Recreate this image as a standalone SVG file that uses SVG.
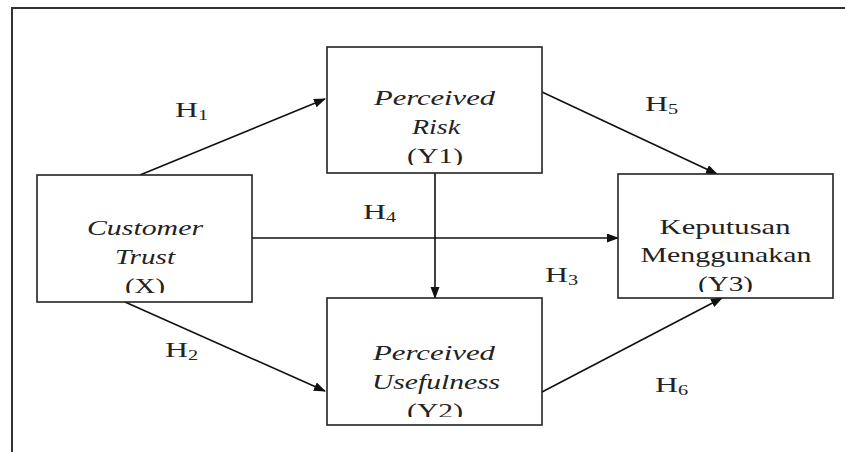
<svg xmlns="http://www.w3.org/2000/svg" width="845" height="452" viewBox="0 0 845 452">
<style>
.box{fill:#fff;stroke:#222;stroke-width:1.6}
.frame{fill:none;stroke:#333;stroke-width:2}
.con{stroke:#111;stroke-width:1.6;fill:none}
.t{font-family:"Liberation Serif","Times New Roman",serif;font-size:22px;fill:#222;text-anchor:middle}
.i{font-style:italic}
.h{font-family:"Liberation Serif","Times New Roman",serif;font-size:22px;fill:#222}
.sub{font-size:14px}
</style>
<defs>
<marker id="ah" markerUnits="userSpaceOnUse" markerWidth="12" markerHeight="10" refX="11" refY="4.5" orient="auto">
<path d="M0,0 L12,4.5 L0,9 z" fill="#111"/>
</marker>
<clipPath id="cX"><rect x="37" y="175" width="215" height="118"/></clipPath>
<clipPath id="cY1"><rect x="327" y="47" width="215" height="118"/></clipPath>
<clipPath id="cY2"><rect x="327" y="298" width="215" height="119"/></clipPath>
<clipPath id="cY3"><rect x="618" y="174" width="215" height="118"/></clipPath>
</defs>
<rect width="845" height="452" fill="#fff"/>
<path class="frame" d="M846,8 H12 V453"/>
<g id="connectors">
<line class="con" x1="140" y1="175" x2="325" y2="99" marker-end="url(#ah)"/>
<line class="con" x1="125" y1="302" x2="325" y2="391" marker-end="url(#ah)"/>
<line class="con" x1="252" y1="238" x2="618" y2="238" marker-end="url(#ah)"/>
<line class="con" x1="435" y1="173" x2="435" y2="298" marker-end="url(#ah)"/>
<line class="con" x1="542" y1="92" x2="717" y2="174" marker-end="url(#ah)"/>
<line class="con" x1="542" y1="392" x2="722" y2="298" marker-end="url(#ah)"/>
</g>
<g id="node-x">
<rect class="box" x="37" y="175" width="215" height="127"/>
<g clip-path="url(#cX)">
<text class="t i" transform="translate(145,235) scale(1.38,1)" textLength="84.1" lengthAdjust="spacingAndGlyphs">Customer</text>
<text class="t i" transform="translate(145,264) scale(1.38,1)" textLength="43.5" lengthAdjust="spacingAndGlyphs">Trust</text>
<text class="t" transform="translate(145,293) scale(1.38,1)" textLength="29" lengthAdjust="spacingAndGlyphs">(X)</text>
</g>
</g>
<g id="node-y1">
<rect class="box" x="327" y="47" width="215" height="126"/>
<g clip-path="url(#cY1)">
<text class="t i" transform="translate(434.5,105) scale(1.38,1)" textLength="87.7" lengthAdjust="spacingAndGlyphs">Perceived</text>
<text class="t i" transform="translate(436,134) scale(1.38,1)" textLength="34.8" lengthAdjust="spacingAndGlyphs">Risk</text>
<text class="t" transform="translate(435,163) scale(1.38,1)" textLength="40.6" lengthAdjust="spacingAndGlyphs">(Y1)</text>
</g>
</g>
<g id="node-y2">
<rect class="box" x="327" y="298" width="215" height="127"/>
<g clip-path="url(#cY2)">
<text class="t i" transform="translate(434,360) scale(1.38,1)" textLength="88.4" lengthAdjust="spacingAndGlyphs">Perceived</text>
<text class="t i" transform="translate(436,389) scale(1.38,1)" textLength="92.8" lengthAdjust="spacingAndGlyphs">Usefulness</text>
<text class="t" transform="translate(435,418) scale(1.38,1)" textLength="40.6" lengthAdjust="spacingAndGlyphs">(Y2)</text>
</g>
</g>
<g id="node-y3">
<rect class="box" x="618" y="174" width="215" height="124"/>
<g clip-path="url(#cY3)">
<text class="t" transform="translate(725,234) scale(1.38,1)" textLength="94.9" lengthAdjust="spacingAndGlyphs">Keputusan</text>
<text class="t" transform="translate(726,262) scale(1.38,1)" textLength="123.9" lengthAdjust="spacingAndGlyphs">Menggunakan</text>
<text class="t" transform="translate(725.5,291) scale(1.38,1)" textLength="39.9" lengthAdjust="spacingAndGlyphs">(Y3)</text>
</g>
</g>
<g id="labels">
<text class="h" transform="translate(175,117) scale(1.45,1)">H<tspan class="sub" dy="3">1</tspan></text>
<text class="h" transform="translate(165,357) scale(1.45,1)">H<tspan class="sub" dy="3">2</tspan></text>
<text class="h" transform="translate(545,282) scale(1.45,1)">H<tspan class="sub" dy="3">3</tspan></text>
<text class="h" transform="translate(363,219) scale(1.45,1)">H<tspan class="sub" dy="3">4</tspan></text>
<text class="h" transform="translate(645,111) scale(1.45,1)">H<tspan class="sub" dy="3">5</tspan></text>
<text class="h" transform="translate(655,392) scale(1.45,1)">H<tspan class="sub" dy="3">6</tspan></text>
</g>
</svg>
